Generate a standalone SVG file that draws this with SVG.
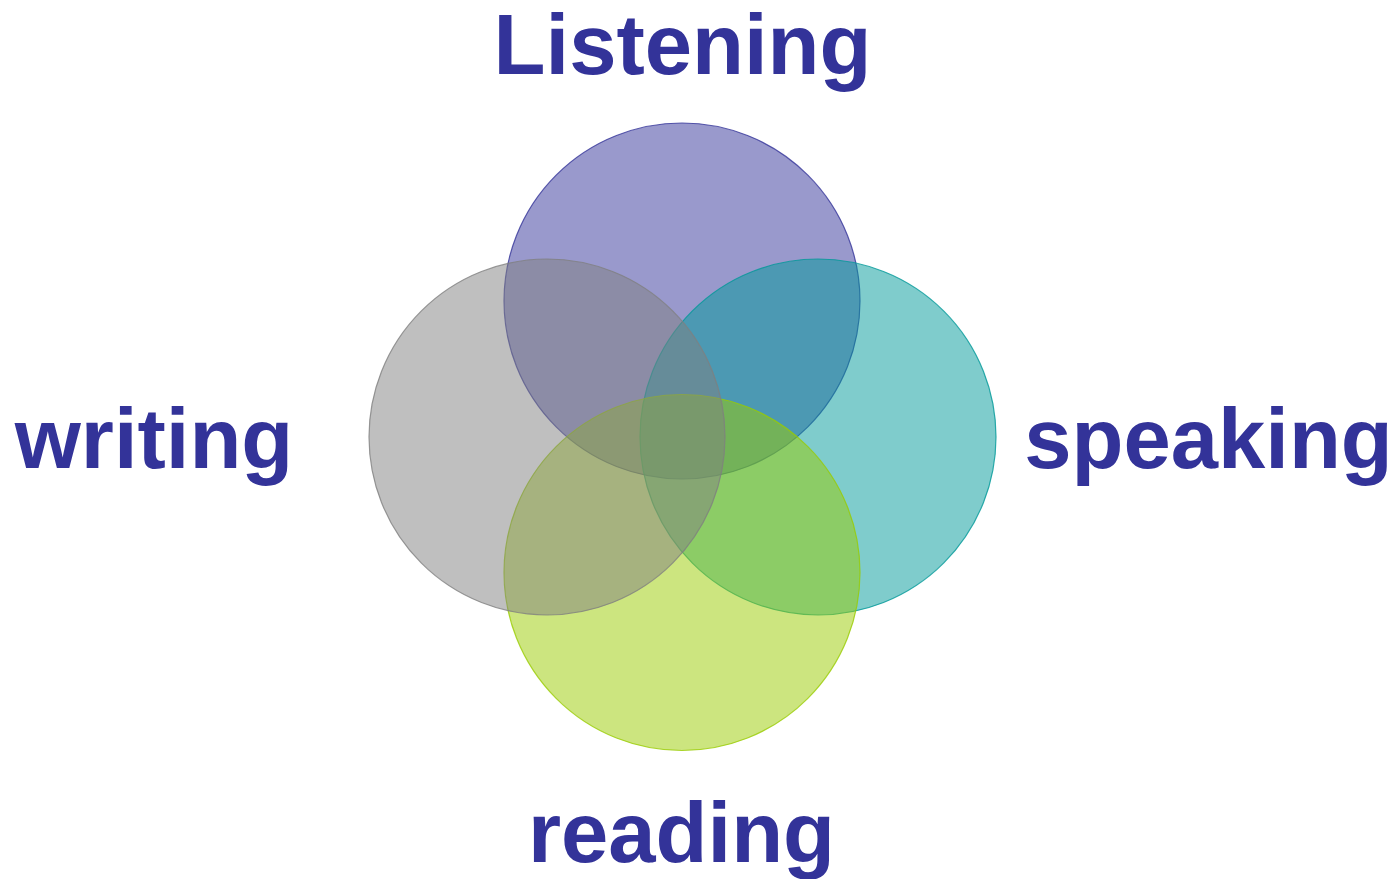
<svg xmlns="http://www.w3.org/2000/svg" width="1394" height="879" viewBox="0 0 1394 879">
<style>
.c{fill-opacity:0.5;stroke-width:1.2;stroke-opacity:0.8}
.t{font-family:"Liberation Sans",Arial,sans-serif;font-weight:bold;font-size:85px;fill:#333399;text-anchor:middle}
</style>
<rect width="1394" height="879" fill="#ffffff"/>
<g id="listening">
<circle class="c" cx="682" cy="301" r="178" fill="#333399" stroke="#333399"/>
<text class="t" x="682.5" y="74">Listening</text>
</g>
<g id="speaking">
<circle class="c" cx="818" cy="437" r="178" fill="#009999" stroke="#009999"/>
<text class="t" x="1208.5" y="468">speaking</text>
</g>
<g id="reading">
<circle class="c" cx="682" cy="572.5" r="178" fill="#99CC00" stroke="#99CC00"/>
<text class="t" x="681.5" y="862">reading</text>
</g>
<g id="writing">
<circle class="c" cx="547" cy="437" r="178" fill="#7F7F7F" stroke="#7F7F7F"/>
<text class="t" x="154" y="468">writing</text>
</g>
<g id="connectors"></g>
</svg>
